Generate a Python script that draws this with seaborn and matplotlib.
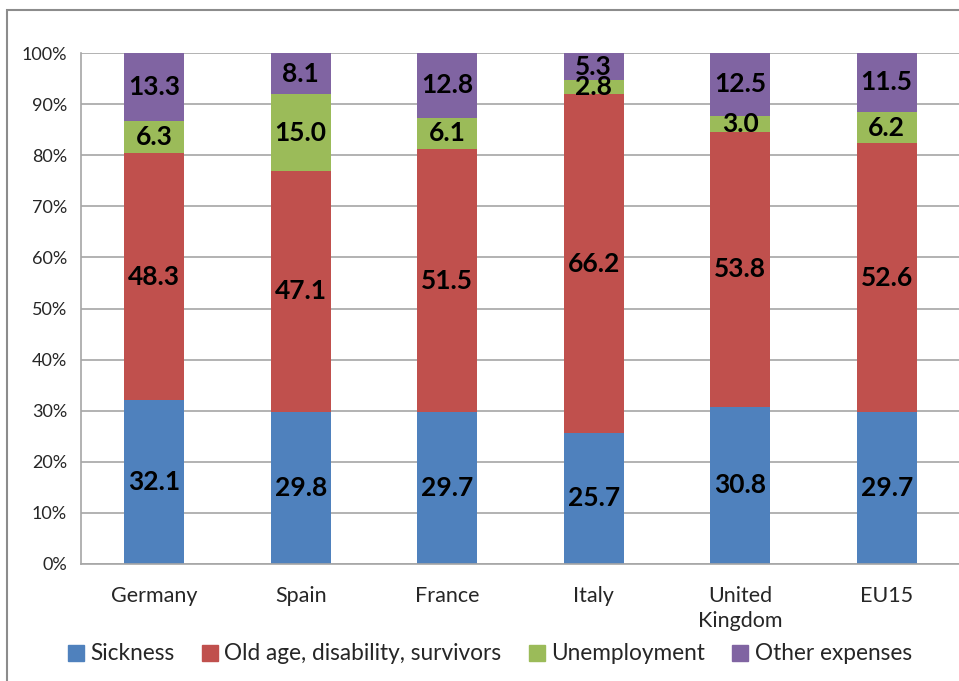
import matplotlib
matplotlib.use("Agg")
import matplotlib.pyplot as plt
import matplotlib.patches as mpatches
import seaborn as sns
import numpy as np
import pandas as pd

countries = ["Germany", "Spain", "France", "Italy", "United\nKingdom", "EU15"]
sickness = [32.1, 29.8, 29.7, 25.7, 30.8, 29.7]
old_age = [48.3, 47.1, 51.5, 66.2, 53.8, 52.6]
unemployment = [6.3, 15.0, 6.1, 2.8, 3.0, 6.2]
other = [13.3, 8.1, 12.8, 5.3, 12.5, 11.5]
series_names = ["Sickness", "Old age, disability, survivors", "Unemployment", "Other expenses"]
colors = ["#4F81BD", "#C0504D", "#9BBB59", "#8064A2"]

sns.set_style("white")
plt.rcParams["font.family"] = ["Lato", "DejaVu Sans"]

series = [sickness, old_age, unemployment, other]
df = pd.DataFrame({"country": countries})
cum = np.zeros(len(countries))
bottoms = []
for name, vals in zip(series_names, series):
    bottoms.append(cum.copy())
    cum = cum + np.array(vals)
    df[name] = cum.copy()

fig = plt.figure(figsize=(9.59, 6.81), dpi=100)
ax = fig.add_axes([81 / 959, 117 / 681, 879 / 959, 511 / 681])

# draw from top layer down (cumulative totals overlap)
for name, col in reversed(list(zip(series_names, colors))):
    sns.barplot(data=df, x="country", y=name, color=col, width=0.41,
                saturation=1, ax=ax, linewidth=0, zorder=2)

for vals, bots in zip(series, bottoms):
    for i, (v, b) in enumerate(zip(vals, bots)):
        ax.text(i, b + v / 2, f"{v:.1f}", ha="center", va="center",
                fontsize=19, fontweight="bold", color="black", zorder=5)

ax.set_ylim(0, 100)
ax.set_xlim(-0.5, len(countries) - 0.5)
ax.set_yticks(np.arange(0, 101, 10))
ax.set_yticklabels([f"{t}%" for t in range(0, 101, 10)], fontsize=13)
ax.set_xticklabels(countries, fontsize=15.5, linespacing=1.3)
ax.set_xlabel("")
ax.set_ylabel("")
ax.yaxis.grid(True, color="#A6A6A6", linewidth=1.2, zorder=0)
ax.set_axisbelow(True)
for s in ["top", "right"]:
    ax.spines[s].set_visible(False)
for s in ["left", "bottom"]:
    ax.spines[s].set_color("#A6A6A6")
    ax.spines[s].set_linewidth(1.2)
ax.tick_params(axis="y", length=6, color="#A6A6A6", width=1.2, pad=4)
ax.tick_params(axis="x", length=0, pad=16)

handles = [mpatches.Patch(color=c, label=n) for n, c in zip(series_names, colors)]
fig.legend(handles=handles, loc="center", bbox_to_anchor=(490 / 959, 1 - 654 / 681),
           ncol=4, frameon=False, fontsize=16.3, handlelength=0.7, handleheight=0.7,
           handletextpad=0.3, columnspacing=1.2)

border = mpatches.Rectangle((7 / 959, -0.05), 1.2, (681 - 10) / 681 + 0.05,
                            transform=fig.transFigure, fill=False,
                            edgecolor="#8C8C8C", linewidth=1.5, zorder=10)
fig.patches.append(border)

fig.savefig("out.png", dpi=100)
